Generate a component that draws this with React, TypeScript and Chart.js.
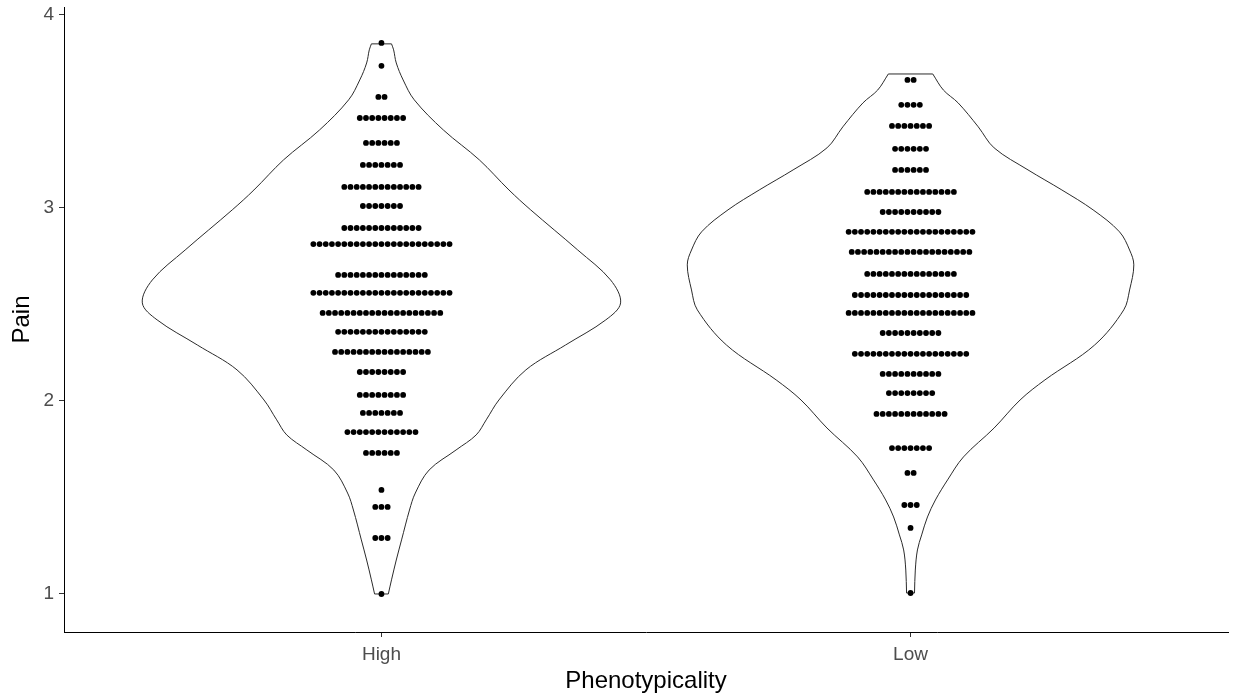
import React, { useEffect, useRef } from 'react';
import { Chart, registerables } from 'chart.js';

Chart.register(...registerables);

// ---- data ----
const categories = ['High', 'Low'];
const yTickValues = [1, 2, 3, 4];
const xAxisTitle = 'Phenotypicality';
const yAxisTitle = 'Pain';

// dot plot rows (bin centre value, number of stacked dots)
const highDotValues = [3.855, 3.736, 3.575, 3.466, 3.337, 3.223, 3.109, 3.01, 2.896, 2.813, 2.653, 2.56, 2.456, 2.358, 2.254, 2.15, 2.031, 1.938, 1.839, 1.731, 1.539, 1.451, 1.29, 1.0];
const highDotCounts = [1, 1, 2, 8, 6, 7, 13, 7, 13, 23, 15, 23, 20, 15, 16, 8, 8, 7, 12, 6, 1, 3, 3, 1];
const lowDotValues = [3.663, 3.534, 3.425, 3.306, 3.197, 3.083, 2.979, 2.876, 2.772, 2.658, 2.549, 2.456, 2.352, 2.244, 2.14, 2.041, 1.933, 1.756, 1.627, 1.461, 1.342, 1.005];
const lowDotCounts = [2, 4, 7, 6, 6, 15, 10, 21, 20, 15, 19, 21, 10, 19, 10, 8, 12, 7, 2, 3, 1, 1];

// violin outline (value, half width in category units)
const highViolinY = [3.85, 3.819, 3.751, 3.663, 3.56, 3.404, 3.249, 3.093, 2.99, 2.782, 2.627, 2.508, 2.42, 2.29, 2.161, 2.005, 1.902, 1.824, 1.746, 1.642, 1.523, 1.435, 1.28, 1.176, 1.073, 1.0];
const highViolinHalfWidth = [0.019, 0.023, 0.028, 0.041, 0.062, 0.117, 0.185, 0.241, 0.282, 0.371, 0.433, 0.452, 0.424, 0.348, 0.273, 0.222, 0.198, 0.179, 0.141, 0.09, 0.064, 0.053, 0.038, 0.028, 0.019, 0.013];
const lowViolinY = [3.694, 3.611, 3.544, 3.42, 3.311, 3.197, 3.093, 2.99, 2.876, 2.782, 2.705, 2.575, 2.472, 2.29, 2.109, 2.005, 1.86, 1.71, 1.591, 1.487, 1.399, 1.306, 1.228, 1.124, 1.005];
const lowViolinHalfWidth = [0.042, 0.062, 0.09, 0.128, 0.158, 0.222, 0.286, 0.345, 0.395, 0.414, 0.422, 0.414, 0.403, 0.348, 0.254, 0.207, 0.158, 0.1, 0.07, 0.047, 0.032, 0.021, 0.013, 0.009, 0.0075];

// ---- styling constants ----
const FONT = '"Liberation Sans", Arial, Helvetica, sans-serif';
const DOT_STEP = 0.0117; // horizontal spacing of stacked dots, category units
const DOT_RADIUS = 2.9;

function dotPoints(center: number, values: number[], counts: number[]) {
  const pts: { x: number; y: number }[] = [];
  values.forEach((v, r) => {
    const n = counts[r];
    for (let i = 0; i < n; i++) {
      pts.push({ x: center + (i - (n - 1) / 2) * DOT_STEP, y: v });
    }
  });
  return pts;
}

function violinDatasets(center: number, ys: number[], hw: number[]) {
  const line = {
    type: 'scatter' as const,
    showLine: true,
    pointRadius: 0,
    borderColor: '#2b2b2b',
    borderWidth: 1,
    fill: false,
    order: 2,
  };
  const last = ys.length - 1;
  return [
    { ...line, tension: 0.35, data: ys.map((y, i) => ({ x: center + hw[i], y })) },
    { ...line, tension: 0.35, data: ys.map((y, i) => ({ x: center - hw[i], y })) },
    { ...line, tension: 0, data: [{ x: center - hw[0], y: ys[0] }, { x: center + hw[0], y: ys[0] }] },
    { ...line, tension: 0, data: [{ x: center - hw[last], y: ys[last] }, { x: center + hw[last], y: ys[last] }] },
  ];
}

export default function App() {
  const ref = useRef<HTMLCanvasElement | null>(null);

  useEffect(() => {
    if (!ref.current) return;
    const datasets: any[] = [
      ...violinDatasets(1, highViolinY, highViolinHalfWidth),
      ...violinDatasets(2, lowViolinY, lowViolinHalfWidth),
      {
        type: 'scatter',
        data: dotPoints(1, highDotValues, highDotCounts),
        pointRadius: DOT_RADIUS,
        pointBackgroundColor: '#000',
        pointBorderWidth: 0,
        order: 1,
      },
      {
        type: 'scatter',
        data: dotPoints(2, lowDotValues, lowDotCounts),
        pointRadius: DOT_RADIUS,
        pointBackgroundColor: '#000',
        pointBorderWidth: 0,
        order: 1,
      },
    ];

    const chart = new Chart(ref.current, {
      type: 'scatter',
      data: { datasets },
      options: {
        responsive: false,
        animation: false,
        devicePixelRatio: 1,
        layout: { padding: { top: 7, right: 7, left: 0, bottom: 0 } },
        plugins: { legend: { display: false }, tooltip: { enabled: false } },
        scales: {
          x: {
            type: 'linear',
            min: 0.4,
            max: 2.6,
            afterBuildTicks: (s: any) => {
              s.ticks = categories.map((_, i) => ({ value: i + 1 }));
            },
            afterFit: (s: any) => {
              s.height = 66;
              s.paddingLeft = 0;
              s.paddingRight = 0;
            },
            ticks: {
              autoSkip: false,
              maxRotation: 0,
              padding: 6,
              color: '#4D4D4D',
              font: { family: FONT, size: 19 },
              callback: (v: any) => categories[Math.round(Number(v)) - 1] ?? '',
            },
            grid: { drawOnChartArea: false, drawTicks: true, tickLength: 5, color: '#333333', tickColor: '#333333' },
            border: { display: true, color: '#000000', width: 1 },
            title: {
              display: true,
              text: xAxisTitle,
              color: '#000000',
              font: { family: FONT, size: 24 },
              padding: { top: 0, bottom: 2 },
            },
          },
          y: {
            type: 'linear',
            min: 0.803,
            max: 4.041,
            afterBuildTicks: (s: any) => {
              s.ticks = yTickValues.map((v) => ({ value: v }));
            },
            afterFit: (s: any) => {
              s.width = 64;
              s.paddingTop = 0;
              s.paddingBottom = 0;
            },
            ticks: {
              padding: 5,
              color: '#4D4D4D',
              font: { family: FONT, size: 19 },
              callback: (v: any) => String(v),
            },
            grid: { drawOnChartArea: false, drawTicks: true, tickLength: 5, color: '#333333', tickColor: '#333333' },
            border: { display: true, color: '#000000', width: 1 },
            title: {
              display: true,
              text: yAxisTitle,
              color: '#000000',
              font: { family: FONT, size: 24 },
              padding: { top: 8, bottom: 0 },
            },
          },
        },
      },
    } as any);

    return () => chart.destroy();
  }, []);

  return (
    <div style={{ position: 'fixed', left: 0, top: 0, width: 1235, height: 698, background: '#fff' }}>
      <canvas ref={ref} width={1235} height={698} style={{ width: 1235, height: 698, display: 'block' }} />
    </div>
  );
}
